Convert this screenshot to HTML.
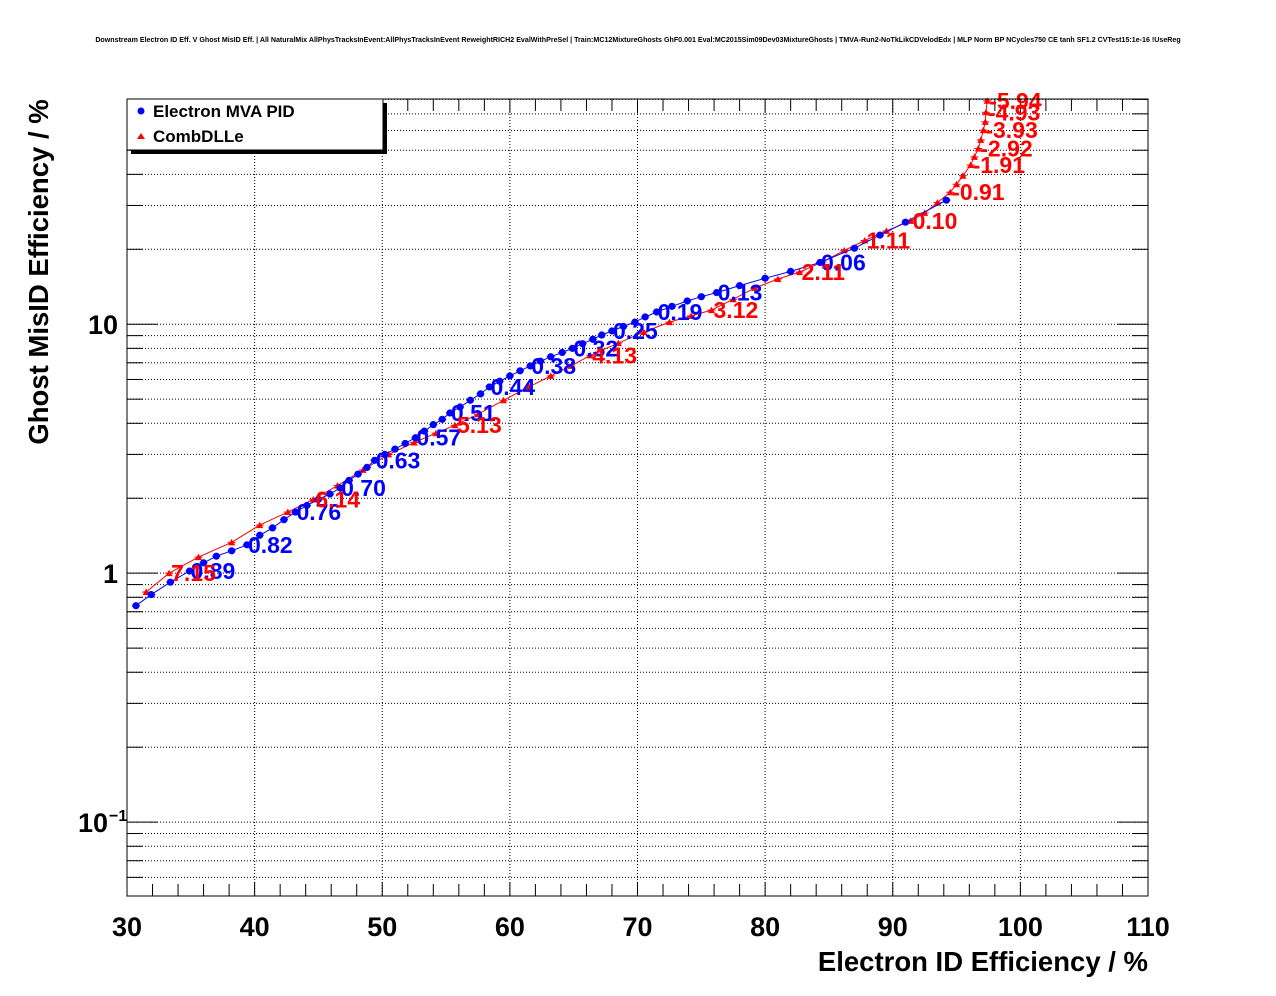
<!DOCTYPE html>
<html><head><meta charset="utf-8"><style>
html,body{margin:0;padding:0;background:#fff;}
svg{display:block;font-family:"Liberation Sans",sans-serif;}
</style></head><body>
<svg id="chart" width="1276" height="996" xmlns="http://www.w3.org/2000/svg">
<text x="638" y="42" text-anchor="middle" font-size="7.1" font-weight="bold">Downstream Electron ID Eff. V Ghost MisID Eff. | All NaturalMix AllPhysTracksInEvent:AllPhysTracksInEvent ReweightRICH2 EvalWithPreSel | Train:MC12MixtureGhosts GhF0.001 Eval:MC2015Sim09Dev03MixtureGhosts | TMVA-Run2-NoTkLikCDVelodEdx | MLP Norm BP NCycles750 CE tanh SF1.2 CVTest15:1e-16 !UseReg</text>
<g id="grid"></g>
<g id="axes"></g>
<g id="series"></g>
<rect x="127" y="99" width="1021" height="797" fill="none" stroke="#000" stroke-width="1"/>
<g>
<rect x="131" y="103" width="256" height="51" fill="#000"/>
<rect x="127" y="99" width="256" height="51" fill="#fff" stroke="#000"/>
<circle cx="141" cy="111" r="3.5" fill="#0000ff"/>
<text x="153" y="117" font-size="17" font-weight="bold">Electron MVA PID</text>
<polygon points="137,139 141,133 145,139" fill="#ff0000"/>
<text x="153" y="142" font-size="17" font-weight="bold">CombDLLe</text>
</g>
<text x="1148" y="971" text-anchor="end" font-size="27.5" font-weight="bold">Electron ID Efficiency / %</text>
<text transform="translate(48,272) rotate(-90)" text-anchor="middle" font-size="27.5" font-weight="bold">Ghost MisID Efficiency / %</text>
</svg>
<script>
const xTicks=[30,40,50,60,70,80,90,100,110];
const blueX=[30.7,31.9,33.4,34.9,36.0,37.0,38.2,39.4,40.4,41.4,42.3,43.2,44.1,45.0,45.9,46.7,47.4,48.1,48.8,49.4,50.2,51.0,51.8,52.6,53.3,54.0,54.7,55.3,56.1,56.9,57.7,58.4,59.2,60.0,60.8,61.6,62.4,63.2,64.1,64.9,65.7,66.5,67.2,68.0,68.9,69.8,70.6,71.5,72.7,73.9,75.0,76.2,78.0,80.0,82.0,84.3,87.0,89.0,91.0,94.2];
const blueY=[0.74,0.82,0.92,1.02,1.10,1.17,1.23,1.30,1.42,1.52,1.64,1.76,1.87,1.98,2.08,2.20,2.36,2.50,2.66,2.84,3.0,3.15,3.32,3.50,3.72,3.95,4.15,4.40,4.65,4.95,5.25,5.60,5.90,6.20,6.50,6.80,7.1,7.4,7.7,8.0,8.35,8.7,9.05,9.40,9.8,10.2,10.7,11.2,11.8,12.4,12.9,13.4,14.3,15.3,16.3,17.7,20.2,22.8,25.7,31.5];
const blueLabelX=[34.9,39.4,43.2,46.7,49.4,52.6,55.3,58.4,61.6,64.9,68.0,71.5,76.2,84.3];
const blueLabelY=[1.02,1.30,1.76,2.20,2.84,3.50,4.40,5.60,6.80,8.0,9.40,11.2,13.4,17.7];
const blueLabels=["0.89","0.82","0.76","0.70","0.63","0.57","0.51","0.44","0.38","0.32","0.25","0.19","0.13","0.06"];
const redX=[31.5,33.3,35.6,38.2,40.4,42.6,44.6,46.5,48.5,50.5,52.5,54.2,55.7,57.5,59.5,61.5,63.2,64.8,66.3,68.5,70.5,72.5,74.2,75.8,77.5,79.2,81.0,82.7,84.5,86.2,87.8,89.5,91.4,92.5,93.5,94.5,95.0,95.5,96.1,96.4,96.7,96.9,97.1,97.25,97.3,97.4];
const redY=[0.84,1.0,1.16,1.33,1.56,1.76,1.98,2.25,2.6,3.0,3.35,3.65,3.93,4.35,4.95,5.6,6.2,6.8,7.5,8.4,9.3,10.2,10.8,11.4,12.6,14.0,15.2,16.2,17.8,19.8,21.7,23.7,26.0,28,30.8,33.9,36.5,39.5,43.6,47,50.8,55,60.2,65,71,79];
const redLabelX=[33.3,44.6,55.7,66.3,75.8,82.7,87.8,91.4,94.5,96.1,96.7,97.1,97.3,97.4];
const redLabelY=[1.0,1.98,3.93,7.5,11.4,16.2,21.7,26.0,33.9,43.6,50.8,60.2,71,79];
const redLabels=["7.15","6.14","5.13","4.13","3.12","2.11","1.11","0.10","-0.91","-1.91","-2.92","-3.93","-4.93","-5.94"];

const L=127,R=1148,T=99,B=896,XMIN=30,XMAX=110,YMIN=0.0505,YMAX=80.3;
const NS="http://www.w3.org/2000/svg";
function sx(v){return L+(v-XMIN)/(XMAX-XMIN)*(R-L);}
function sy(v){return B-(Math.log10(v)-Math.log10(YMIN))/(Math.log10(YMAX)-Math.log10(YMIN))*(B-T);}
function mk(tag,attrs,parent){const e=document.createElementNS(NS,tag);for(const k in attrs)e.setAttribute(k,attrs[k]);parent.appendChild(e);return e;}
const grid=document.getElementById('grid'),axes=document.getElementById('axes'),series=document.getElementById('series');

xTicks.forEach(v=>{
  const x=sx(v);
  if(v>XMIN&&v<XMAX){const g=mk('line',{x1:x,x2:x,y1:T,y2:B,stroke:'#000','stroke-dasharray':'1,2','stroke-width':1},grid);
  
  }
  const t=mk('text',{x:x,y:936,'text-anchor':'middle','font-size':27,'font-weight':'bold'},axes);
  t.textContent=v;
  
  
});
for(let v=XMIN;v<=XMAX;v+=2){
  const x=sx(v);const len=(v%10===0)?14:12;
  mk('line',{x1:x,x2:x,y1:B,y2:B-len,stroke:'#000'},axes);
  mk('line',{x1:x,x2:x,y1:T,y2:T+len,stroke:'#000'},axes);
}
for(let d=-2;d<=1;d++){
  for(let m=1;m<=9;m++){
    const v=m*Math.pow(10,d);
    if(v<YMIN||v>YMAX)continue;
    const y=sy(v);
    const g=mk('line',{x1:L,x2:R,y1:y,y2:y,stroke:'#000','stroke-dasharray':'1,2'},grid);
    
    
    const len=m===1?31:16;
    mk('line',{x1:L,x2:L+len,y1:y,y2:y,stroke:'#000'},axes);
    mk('line',{x1:R,x2:R-len,y1:y,y2:y,stroke:'#000'},axes);
  }
}
[[0.1,'10','−1'],[1,'1',null],[10,'10',null]].forEach(([v,txt,sup])=>{
  const t=mk('text',{x:sup?108:118,y:sy(v)+10,'text-anchor':'end','font-size':27,'font-weight':'bold'},axes);
  t.textContent=txt;
  
  
  if(sup){const s=mk('text',{x:109,y:sy(v)-1,'font-size':16,'font-weight':'bold'},axes);s.textContent=sup;}
});

function drawSeries(xs,ys,color,shape,name){
  const pts=xs.map((x,i)=>sx(x).toFixed(1)+','+sy(ys[i]).toFixed(1)).join(' ');
  const pl=mk('polyline',{points:pts,fill:'none',stroke:color,'stroke-width':1},series);
  
  
  xs.forEach((x,i)=>{
    const cx=sx(x),cy=sy(ys[i]);
    mk('line',{x1:cx-4,x2:cx+4,y1:cy,y2:cy,stroke:color},series);
    let m;
    if(shape==='circle'){m=mk('circle',{cx:cx,cy:cy,r:3.6,fill:color},series);}
    else{m=mk('polygon',{points:`${cx-3.5},${cy+3} ${cx},${cy-3.5} ${cx+3.5},${cy+3}`,fill:color},series);}
    
    
  });
}
function drawLabels(xs,ys,labels,color,dx,name){
  xs.forEach((x,i)=>{
    const t=mk('text',{x:sx(x)+dx,y:sy(ys[i])+8,'font-size':23,'font-weight':'bold',fill:color},series);
    t.textContent=labels[i];
    
    
  });
}
drawSeries(redX,redY,'#ff0000','tri','combdlle');
drawSeries(blueX,blueY,'#0000ff','circle','mva');
drawLabels(blueLabelX,blueLabelY,blueLabels,'#0000ff',1,'mva');
drawLabels(redLabelX,redLabelY,redLabels,'#ff0000',2,'combdlle');
</script>
</body></html>
